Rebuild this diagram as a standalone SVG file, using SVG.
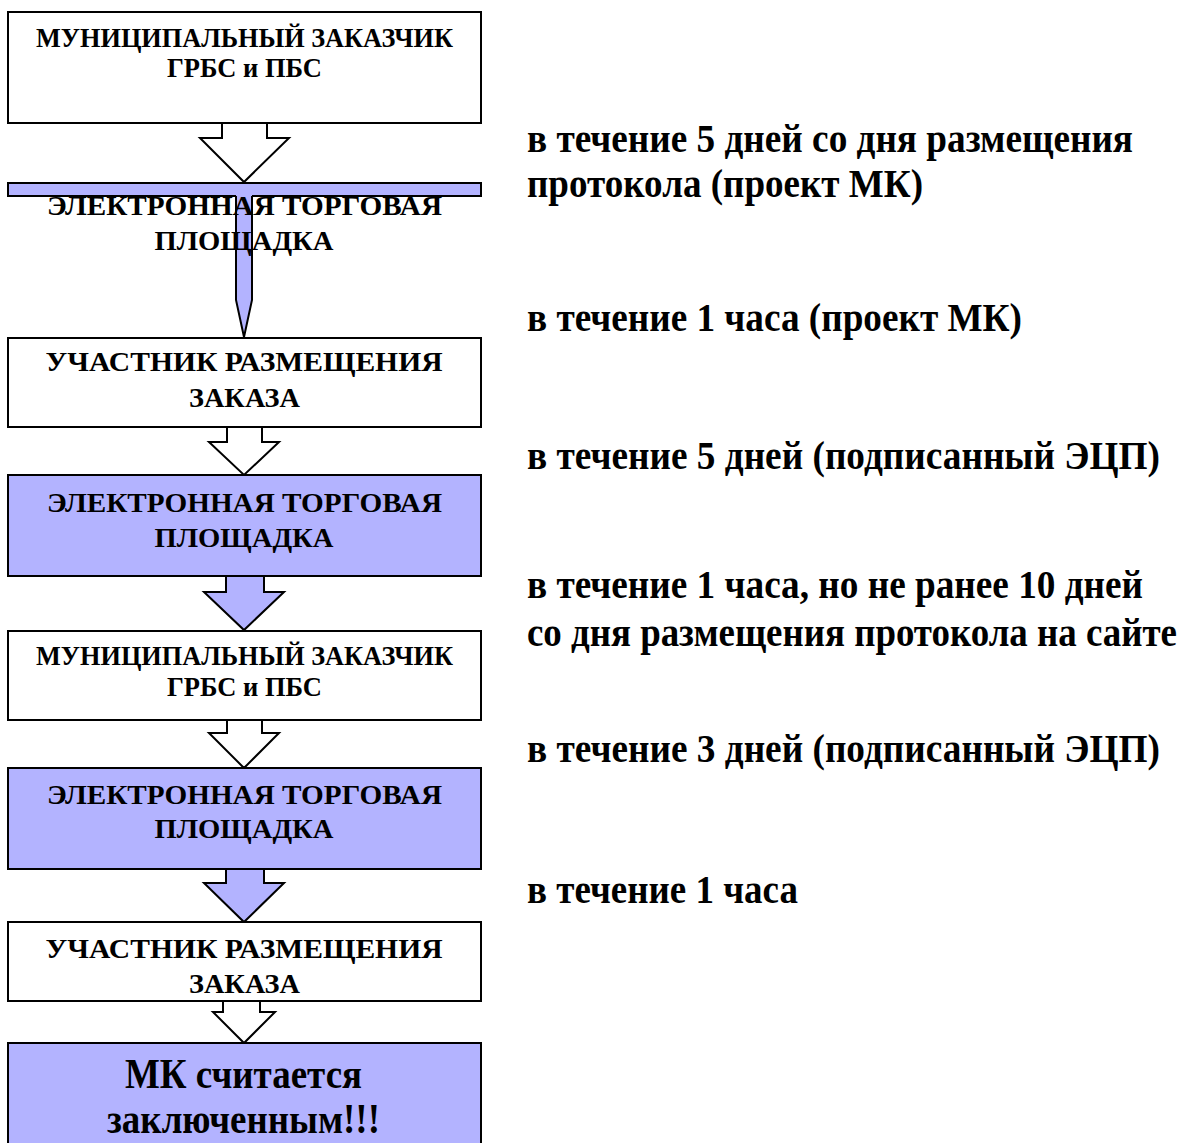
<svg xmlns="http://www.w3.org/2000/svg" width="1190" height="1143" viewBox="0 0 1190 1143">
<style>
  .box { stroke: #000; stroke-width: 2; }
  .w { fill: #fff; }
  .v { fill: #b3b3ff; }
  .arr { stroke: #000; stroke-width: 2; stroke-linejoin: miter; }
  .t { font-family: "Liberation Serif", "Times New Roman", serif; font-weight: bold; fill: #000; }
  .bt { font-size: 27px; text-anchor: middle; }
  .big { font-size: 42px; text-anchor: middle; }
  .rt { font-size: 39px; }
</style>
<rect width="1190" height="1143" fill="#fff"/>
<g id="connectors">
  <path class="arr w" d="M222,123 L222,138 L200,138 L244,182 L289,138 L267,138 L267,123"/>
  <path class="arr v" d="M236,184 L236,300 L244,337 L252,300 L252,184"/>
  <path class="arr w" d="M227,427 L227,442 L209,442 L244,475 L279,442 L262,442 L262,427"/>
  <path class="arr v" d="M226,576 L226,592 L204,592 L244,630 L284,592 L264,592 L264,576"/>
  <path class="arr w" d="M227,720 L227,733 L209,733 L244,768 L279,733 L262,733 L262,720"/>
  <path class="arr v" d="M226,869 L226,883 L204,883 L244,922 L284,883 L264,883 L264,869"/>
  <path class="arr w" d="M223,1001 L223,1012 L213,1012 L244,1043 L275,1012 L260,1012 L260,1001"/>
</g>
<g id="node1">
  <rect class="box w" x="8" y="12" width="473" height="111"/>
  <text class="t bt" x="244.5" y="47" textLength="417" lengthAdjust="spacingAndGlyphs">МУНИЦИПАЛЬНЫЙ ЗАКАЗЧИК</text>
  <text class="t bt" x="244.5" y="77" textLength="155" lengthAdjust="spacingAndGlyphs">ГРБС и ПБС</text>
</g>
<g id="node2">
  <rect class="v" x="8" y="183" width="473" height="13"/>
  <path fill="none" stroke="#000" stroke-width="2" d="M236,196 L8,196 L8,183 L481,183 L481,196 L252,196"/>
  <text class="t bt" x="244.5" y="215" textLength="395" lengthAdjust="spacingAndGlyphs">ЭЛЕКТРОННАЯ ТОРГОВАЯ</text>
  <text class="t bt" x="244" y="250" textLength="179" lengthAdjust="spacingAndGlyphs">ПЛОЩАДКА</text>
</g>
<g id="node3">
  <rect class="box w" x="8" y="338" width="473" height="89"/>
  <text class="t bt" x="244" y="371" textLength="397" lengthAdjust="spacingAndGlyphs">УЧАСТНИК РАЗМЕЩЕНИЯ</text>
  <text class="t bt" x="244.5" y="407" textLength="111" lengthAdjust="spacingAndGlyphs">ЗАКАЗА</text>
</g>
<g id="node4">
  <rect class="box v" x="8" y="475" width="473" height="101"/>
  <text class="t bt" x="244.5" y="512" textLength="395" lengthAdjust="spacingAndGlyphs">ЭЛЕКТРОННАЯ ТОРГОВАЯ</text>
  <text class="t bt" x="244" y="547" textLength="179" lengthAdjust="spacingAndGlyphs">ПЛОЩАДКА</text>
</g>
<g id="node5">
  <rect class="box w" x="8" y="631" width="473" height="89"/>
  <text class="t bt" x="244.5" y="665" textLength="417" lengthAdjust="spacingAndGlyphs">МУНИЦИПАЛЬНЫЙ ЗАКАЗЧИК</text>
  <text class="t bt" x="244.5" y="696" textLength="155" lengthAdjust="spacingAndGlyphs">ГРБС и ПБС</text>
</g>
<g id="node6">
  <rect class="box v" x="8" y="768" width="473" height="101"/>
  <text class="t bt" x="244.5" y="804" textLength="395" lengthAdjust="spacingAndGlyphs">ЭЛЕКТРОННАЯ ТОРГОВАЯ</text>
  <text class="t bt" x="244" y="838" textLength="179" lengthAdjust="spacingAndGlyphs">ПЛОЩАДКА</text>
</g>
<g id="node7">
  <rect class="box w" x="8" y="922" width="473" height="79"/>
  <text class="t bt" x="244" y="958" textLength="397" lengthAdjust="spacingAndGlyphs">УЧАСТНИК РАЗМЕЩЕНИЯ</text>
  <text class="t bt" x="244.5" y="993" textLength="111" lengthAdjust="spacingAndGlyphs">ЗАКАЗА</text>
</g>
<g id="node8">
  <rect class="box v" x="8" y="1043" width="473" height="110"/>
  <text class="t big" x="243.5" y="1088" textLength="237" lengthAdjust="spacingAndGlyphs">МК считается</text>
  <text class="t big" x="243.5" y="1133" textLength="273" lengthAdjust="spacingAndGlyphs">заключенным!!!</text>
</g>
<g id="labels">
  <text class="t rt" x="527" y="152" textLength="606" lengthAdjust="spacingAndGlyphs">в течение 5 дней со дня размещения</text>
  <text class="t rt" x="527" y="197" textLength="396" lengthAdjust="spacingAndGlyphs">протокола (проект МК)</text>
  <text class="t rt" x="527" y="331" textLength="495" lengthAdjust="spacingAndGlyphs">в течение 1 часа (проект МК)</text>
  <text class="t rt" x="527" y="469" textLength="633" lengthAdjust="spacingAndGlyphs">в течение 5 дней (подписанный ЭЦП)</text>
  <text class="t rt" x="527" y="598" textLength="616" lengthAdjust="spacingAndGlyphs">в течение 1 часа, но не ранее 10 дней</text>
  <text class="t rt" x="527" y="646" textLength="650" lengthAdjust="spacingAndGlyphs">со дня размещения протокола на сайте</text>
  <text class="t rt" x="527" y="762" textLength="633" lengthAdjust="spacingAndGlyphs">в течение 3 дней (подписанный ЭЦП)</text>
  <text class="t rt" x="527" y="903" textLength="271" lengthAdjust="spacingAndGlyphs">в течение 1 часа</text>
</g>
</svg>
